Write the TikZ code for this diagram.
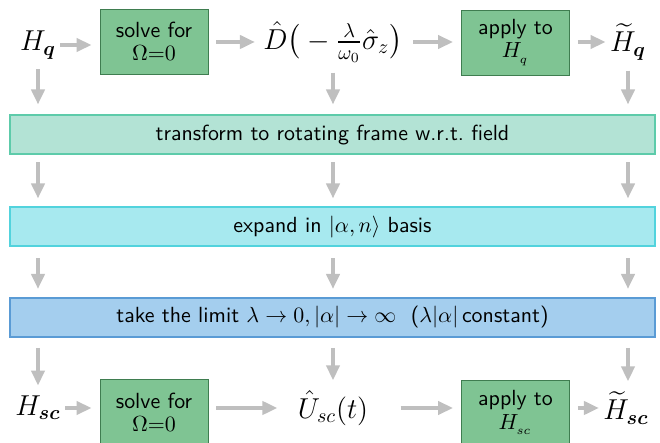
\documentclass[tikz,border=0pt,11pt]{standalone}
\usepackage{amsmath,bm}
\usetikzlibrary{arrows.meta}
\definecolor{opfill}{HTML}{7FC493}
\definecolor{opedge}{HTML}{3F7D50}
\definecolor{rotfill}{HTML}{B3E3D5}
\definecolor{rotedge}{HTML}{5DCBAA}
\definecolor{expfill}{HTML}{A7E9EF}
\definecolor{expedge}{HTML}{52D3DD}
\definecolor{limfill}{HTML}{A4CEEE}
\definecolor{limedge}{HTML}{5A9BD5}
\begin{document}
\begin{tikzpicture}[x=0.5pt, y=-0.5pt,
    arr/.style={draw=gray!50, line width=2pt, -{Triangle[length=7.5pt, width=6.5pt]}},
    op/.style={rectangle, draw=opedge, fill=opfill, minimum width=54pt, minimum height=32.5pt,
      align=center, font=\sffamily, inner sep=1pt},
    band/.style={rectangle, line width=1pt, minimum width=322.5pt, minimum height=19.5pt,
      font=\sffamily, inner sep=0pt},
    ham/.style={inner sep=1pt, font=\Large}
  ]
  \useasboundingbox (0,0) rectangle (660,443);
  \node[ham] (Hq) at (38,45) {$H_{\bm{q}}$};
  \node[op] (solveq) at (154,41.5) {solve for\\[-2pt]$\Omega{=}0$};
  \node[ham] (D) at (333,42) {$\hat{D}\big(-\frac{\lambda}{\omega_0}\hat{\sigma}_z\big)$};
  \node[op] (applyq) at (515.5,42.5) {apply to\\[-2pt]$H_{_q}$};
  \node[ham] (Htq) at (628,42) {$\widetilde{H}_{\bm{q}}$};
  \node[band, draw=rotedge, fill=rotfill] (rot) at (332.5,135) {transform to rotating frame w.r.t.\ field};
  \node[band, draw=expedge, fill=expfill] (exp) at (332.5,227) {expand in $|\alpha,n\rangle$ basis};
  \node[band, draw=limedge, fill=limfill] (lim) at (332.5,317.5)
    {take the limit $\lambda\to0,|\alpha|\to\infty$\ \ ($\lambda|\alpha|$\,constant)};
  \node[ham] (Hsc) at (38,408) {$H_{\bm{sc}}$};
  \node[op] (solvesc) at (154,412) {solve for\\[-2pt]$\Omega{=}0$};
  \node[ham] (Usc) at (333,408) {$\hat{U}_{sc}(t)$};
  \node[op] (applysc) at (515.5,412.5) {apply to\\[-2pt]$H_{_{sc}}$};
  \node[ham] (Htsc) at (626,408) {$\widetilde{H}_{\bm{sc}}$};
  \draw[arr, shorten <=1pt, shorten >=4pt] (Hq) -- (solveq.west |- Hq);
  \draw[arr, shorten <=4pt, shorten >=3pt] (solveq.east |- D) -- (D);
  \draw[arr, shorten <=4pt, shorten >=4pt] (D) -- (applyq.west |- D);
  \draw[arr, shorten <=4pt, shorten >=1pt] (applyq.east |- Htq) -- (Htq);
  \draw[arr, shorten <=1pt, shorten >=4pt] (Hsc) -- (solvesc.west |- Hsc);
  \draw[arr, shorten <=4pt, shorten >=9pt] (solvesc.east |- Usc) -- (Usc);
  \draw[arr, shorten <=15pt, shorten >=4pt] (Usc) -- (applysc.west |- Usc);
  \draw[arr, shorten <=4pt, shorten >=1pt] (applysc.east |- Htsc) -- (Htsc);
  \foreach \top/\bot in {Hq/Hsc, D/Usc, Htq/Htsc} {
    \draw[arr, shorten <=4pt, shorten >=5pt] (\top) -- (\top |- rot.north);
    \draw[arr, shorten <=3.5pt, shorten >=4pt] (\top |- rot.south) -- (\top |- exp.north);
    \draw[arr, shorten <=5.5pt, shorten >=4pt] (\top |- exp.south) -- (\top |- lim.north);
    \draw[arr, shorten <=5pt, shorten >=4pt] (\top |- lim.south) -- (\top |- \bot.north);
  }
\end{tikzpicture}
\end{document}
